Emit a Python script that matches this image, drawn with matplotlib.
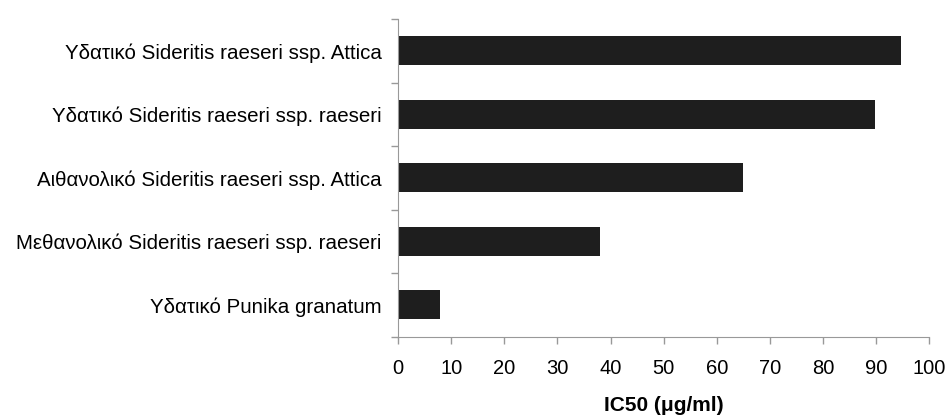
import numpy as np
import matplotlib.pyplot as plt
from matplotlib.ticker import FixedLocator

plt.rcParams['font.family'] = ['Liberation Sans', 'DejaVu Sans']

# extracts, top to bottom as in the figure
labels = ["Υδατικό Sideritis raeseri ssp. Attica",
          "Υδατικό Sideritis raeseri ssp. raeseri",
          "Αιθανολικό Sideritis raeseri ssp. Attica",
          "Μεθανολικό Sideritis raeseri ssp. raeseri",
          "Υδατικό Punika granatum"]
ic50 = [94.8, 89.9, 64.9, 38.1, 7.9]
xticks = [0, 10, 20, 30, 40, 50, 60, 70, 80, 90, 100]

fig = plt.figure(figsize=(9.48, 4.15), dpi=100)
ax = fig.add_axes([0.420, 0.189, 0.560, 0.765])

y = np.arange(len(labels))
ax.barh(y, ic50, height=0.46, color="#1e1e1e")
ax.set_ylim(len(labels) - 0.5, -0.5)
ax.set_xlim(0, 100)

ax.set_xticks(xticks)
ax.set_xticklabels([str(t) for t in xticks], fontsize=14.5)
ax.yaxis.set_major_locator(FixedLocator(np.arange(-0.5, len(labels), 1.0)))
ax.set_yticklabels([])
ax.yaxis.set_minor_locator(FixedLocator(y))
ax.set_yticklabels(labels, minor=True, fontsize=14.8)
ax.tick_params(axis='y', which='minor', length=0, pad=12)
ax.tick_params(axis='y', which='major', length=5, color="#999999", width=1)
ax.tick_params(axis='x', length=5, color="#999999", width=1, pad=11)

for s in ['top', 'right']:
    ax.spines[s].set_visible(False)
for s in ['left', 'bottom']:
    ax.spines[s].set_color("#999999")

ax.set_xlabel("IC50 (μg/ml)", fontsize=15, fontweight='bold', labelpad=13)

fig.savefig("out.png", dpi=100)
